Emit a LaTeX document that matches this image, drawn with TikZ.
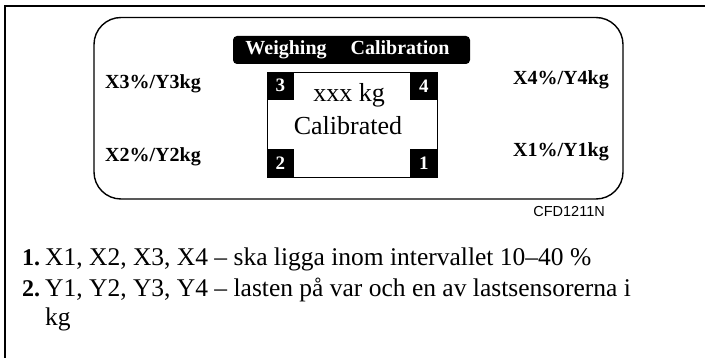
\documentclass[tikz,border=0pt]{standalone}
\usepackage{fontspec}
\setmainfont{Liberation Serif}
\newfontfamily\codefont{Liberation Sans}
\usetikzlibrary{positioning}
\tikzset{load label/.style={font=\fontsize{20}{24}\selectfont\bfseries, anchor=base west, inner sep=0pt},
	corner box/.style={fill=black, text=white, minimum width=27pt, minimum height=28pt, inner sep=0pt, font=\fontsize{19}{20}\selectfont\bfseries},
	list text/.style={font=\fontsize{25.5}{30}\selectfont, anchor=base west, inner sep=0pt},
	list num/.style={list text, font=\fontsize{24}{30}\selectfont\bfseries}}

\begin{document}
\begin{tikzpicture}[x=1pt, y=-1pt]
	\useasboundingbox (0,0) rectangle (705,358);
	% frame and display panel
	\draw[line width=2pt] (5.3,358) -- (5.3,6.3) -- (705,6.3);
	\draw[line width=1.4pt, rounded corners=27pt] (94,17.5) rectangle (623,199);
	\node[fill=black, text=white, rounded corners=4pt, minimum width=237pt, minimum height=28pt, inner sep=0pt, font=\fontsize{20}{24}\selectfont\bfseries] (Title) at (351.5,50) {\hspace{-8pt}Weighing\hspace{24pt}Calibration};
	\node[draw, line width=0.9pt, minimum width=170pt, minimum height=105pt, inner sep=0pt] (Display) at (352,124.5) {};
	\node[corner box, anchor=north west] (Cell 3) at (Display.north west) {3};
	\node[corner box, anchor=north east] (Cell 4) at (Display.north east) {4};
	\node[corner box, anchor=south west] (Cell 2) at (Display.south west) {2};
	\node[corner box, anchor=south east] (Cell 1) at (Display.south east) {1};
	\node[anchor=base, inner sep=0pt, font=\fontsize{26}{30}\selectfont] (Weight) at (349,102) {xxx kg};
	\node[anchor=base, inner sep=0pt, font=\fontsize{26}{30}\selectfont] (Status) at (348,135) {Calibrated};
	% load cell readings
	\node[load label] (Load 3) at (105,89) {X3\%/Y3kg};
	\node[load label] (Load 2) at (105,162) {X2\%/Y2kg};
	\node[load label] (Load 4) at (513,85) {X4\%/Y4kg};
	\node[load label] (Load 1) at (513,157) {X1\%/Y1kg};
	\node[anchor=base east, inner sep=0pt, font=\codefont\fontsize{14.5}{16}\selectfont] (Code) at (605,217) {CFD1211N};
	% legend
	\node[list num] (Num 1) at (22,266) {1.};
	\node[list text] (Item 1) at (45,266) {X1, X2, X3, X4 – ska ligga inom intervallet 10–40 \%};
	\node[list num] (Num 2) at (22,297) {2.};
	\node[list text] (Item 2) at (45,297) {Y1, Y2, Y3, Y4 – lasten på var och en av lastsensorerna i};
	\node[list text] (Item 3) at (45,326) {kg};
\end{tikzpicture}
\end{document}
